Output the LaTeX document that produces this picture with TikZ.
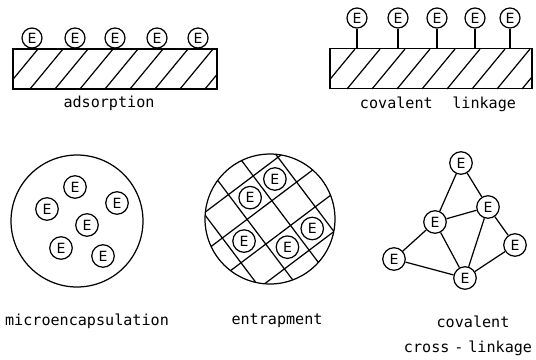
\documentclass[tikz,border=0pt]{standalone}
\usepackage{fontspec}
\newfontfamily\lblfont{DejaVu Sans Mono}
\newfontfamily\enzfont{DejaVu Sans}
\usetikzlibrary{positioning}

\begin{document}
\begin{tikzpicture}[x=0.02cm, y=-0.02cm, line width=0.7pt,
  enz/.style={circle, draw, minimum size=0.4cm, inner sep=0pt,
              font=\enzfont\fontsize{8}{9}\selectfont},
  bigenz/.style={enz, minimum size=0.45cm},
  slab/.style={draw, minimum height=0.8cm, inner sep=0pt},
  shell/.style={circle, draw, inner sep=0pt},
  lbl/.style={font=\lblfont\fontsize{8.6}{10}\selectfont, inner sep=1pt},
]
  \useasboundingbox (0,0) rectangle (536,359);

  % Adsorption
  \node[slab, minimum width=4.08cm] (adbase) at (115,69) {};
  \begin{scope}
    \clip (adbase.south west) rectangle (adbase.north east);
    \foreach \x in {5,30,...,230} \draw (\x,89) -- ++(33,-40);
  \end{scope}
  \foreach \x [count=\i] in {32,75,115,157,198}
    \node[enz] (ad\i) at (\x,38) {E};
  \node[lbl] (adlbl) at (109,103) {adsorption};

  % Covalent linkage
  \node[slab, minimum width=4.04cm] (clbase) at (431,68.5) {};
  \begin{scope}
    \clip (clbase.south west) rectangle (clbase.north east);
    \foreach \x in {322,347,...,547} \draw (\x,89) -- ++(33,-40);
  \end{scope}
  \foreach \x [count=\i] in {357,398,437,475,510} {
    \node[enz] (cl\i) at (\x,18) {E};
    \draw (cl\i) -- (cl\i |- clbase.north);
  }
  \node[lbl] (cllbl) at (438,104) {covalent\hspace{6pt} linkage};

  % Microencapsulation
  \node[shell, minimum size=2.64cm] (capsule) at (77,221) {};
  \node[bigenz] (me1) at (75,187) {E};
  \node[bigenz] (me2) at (47,209) {E};
  \node[bigenz] (me3) at (117,203) {E};
  \node[bigenz] (me4) at (87,225) {E};
  \node[bigenz] (me5) at (61,248) {E};
  \node[bigenz] (me6) at (103,256) {E};
  \node[lbl] (melbl) at (87,321) {microencapsulation};

  % Entrapment
  \node[shell, minimum size=2.6cm] (bead) at (270,219) {};
  \begin{scope}
    \clip (bead.center) circle (1.3cm);
    \begin{scope}[shift={(270,219)}, rotate=37]
      \foreach \u in {-80.5,-49.5,-18.5,12.5,43.5,74.5}
        \draw (\u,-80) -- (\u,80);
      \foreach \v in {-75.5,-44.5,-13.5,17.5,48.5,79.5}
        \draw (-80,\v) -- (80,\v);
      \node[bigenz] (en1) at (28,-29) {E};
      \node[bigenz] (en2) at (-3,-29) {E};
      \node[bigenz] (en3) at (-34,2) {E};
      \node[bigenz] (en4) at (-3,33) {E};
      \node[bigenz] (en5) at (28,33) {E};
    \end{scope}
  \end{scope}
  \node[lbl] (enlbl) at (277,321) {entrapment};

  % Covalent cross-linkage
  \node[bigenz] (xtop) at (461,163) {E};
  \node[bigenz] (xrm) at (488,207) {E};
  \node[bigenz] (xlm) at (435,222) {E};
  \node[bigenz] (xfr) at (515,245) {E};
  \node[bigenz] (xfl) at (394,259) {E};
  \node[bigenz] (xbot) at (465,278) {E};
  \draw (xtop) -- (xlm);
  \draw (xtop) -- (xrm);
  \draw (xlm) -- (xrm);
  \draw (xlm) -- (xfl);
  \draw (xlm) -- (xbot);
  \draw (xrm) -- (xbot);
  \draw (xrm) -- (xfr);
  \draw (xfr) -- (xbot);
  \draw (xfl) -- (xbot);
  \node[lbl] (xlbl1) at (473,322) {covalent};
  \node[lbl] (xlbl2) at (468,348) {cross\hspace{2.8pt}-\hspace{2.8pt}linkage};
\end{tikzpicture}
\end{document}
